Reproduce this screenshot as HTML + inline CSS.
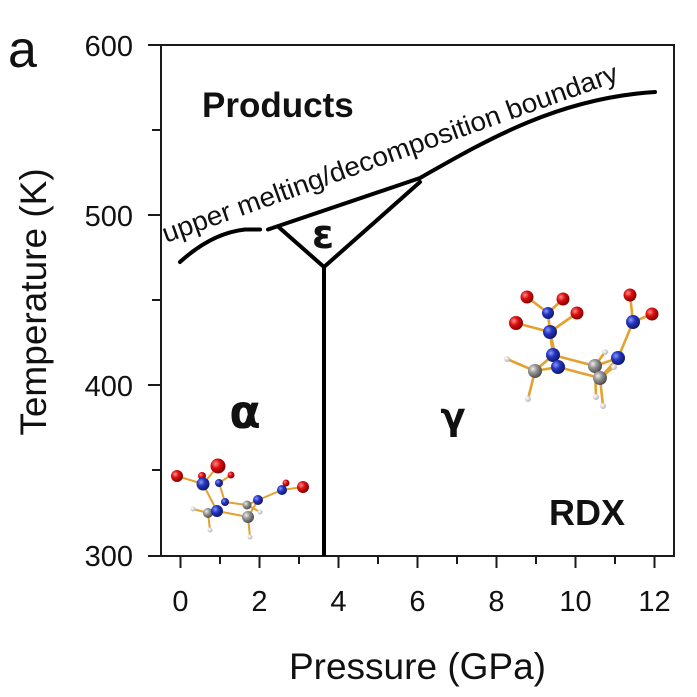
<!DOCTYPE html>
<html>
<head>
<meta charset="utf-8">
<style>
html,body{margin:0;padding:0;background:#fff;}
svg{display:block;}
text{font-family:"Liberation Sans", Arial, sans-serif;fill:#111;}
</style>
</head>
<body>
<svg width="697" height="697" viewBox="0 0 697 697" xmlns="http://www.w3.org/2000/svg">
<defs>
<radialGradient id="gR" cx="35%" cy="35%" r="65%"><stop offset="0" stop-color="#ff9090"/><stop offset="0.45" stop-color="#dd1010"/><stop offset="1" stop-color="#8a0000"/></radialGradient>
<radialGradient id="gB" cx="35%" cy="35%" r="65%"><stop offset="0" stop-color="#8a9aff"/><stop offset="0.45" stop-color="#2535c0"/><stop offset="1" stop-color="#101a70"/></radialGradient>
<radialGradient id="gG" cx="35%" cy="35%" r="65%"><stop offset="0" stop-color="#eeeeee"/><stop offset="0.45" stop-color="#959595"/><stop offset="1" stop-color="#505050"/></radialGradient>
<radialGradient id="gH" cx="35%" cy="35%" r="65%"><stop offset="0" stop-color="#ffffff"/><stop offset="1" stop-color="#b8b8b8"/></radialGradient>
</defs>

<!-- axes box -->
<rect x="161" y="45" width="513" height="511" fill="none" stroke="#1a1a1a" stroke-width="2"/>

<!-- y ticks -->
<g stroke="#1a1a1a" stroke-width="2">
<line x1="148" y1="45" x2="161" y2="45"/>
<line x1="152" y1="130" x2="161" y2="130"/>
<line x1="148" y1="215" x2="161" y2="215"/>
<line x1="152" y1="300" x2="161" y2="300"/>
<line x1="148" y1="385" x2="161" y2="385"/>
<line x1="152" y1="470" x2="161" y2="470"/>
<line x1="148" y1="556" x2="161" y2="556"/>
</g>
<!-- x ticks -->
<g stroke="#1a1a1a" stroke-width="2">
<line x1="180.5" y1="556" x2="180.5" y2="568"/>
<line x1="220" y1="556" x2="220" y2="564"/>
<line x1="259.5" y1="556" x2="259.5" y2="568"/>
<line x1="299" y1="556" x2="299" y2="564"/>
<line x1="338.5" y1="556" x2="338.5" y2="568"/>
<line x1="378" y1="556" x2="378" y2="564"/>
<line x1="417.5" y1="556" x2="417.5" y2="568"/>
<line x1="457" y1="556" x2="457" y2="564"/>
<line x1="496.5" y1="556" x2="496.5" y2="568"/>
<line x1="536" y1="556" x2="536" y2="564"/>
<line x1="575.5" y1="556" x2="575.5" y2="568"/>
<line x1="615" y1="556" x2="615" y2="564"/>
<line x1="654.5" y1="556" x2="654.5" y2="568"/>
</g>

<!-- tick labels -->
<g font-size="29" text-anchor="end">
<text x="133" y="56">600</text>
<text x="133" y="226">500</text>
<text x="133" y="396">400</text>
<text x="133" y="566">300</text>
</g>
<g font-size="29" text-anchor="middle">
<text x="180.5" y="611">0</text>
<text x="259.5" y="611">2</text>
<text x="338.5" y="611">4</text>
<text x="417.5" y="611">6</text>
<text x="496.5" y="611">8</text>
<text x="575.5" y="611">10</text>
<text x="654.5" y="611">12</text>
</g>

<!-- axis labels -->
<text x="417.5" y="679" font-size="37" text-anchor="middle">Pressure (GPa)</text>
<text transform="translate(46,302) rotate(-90)" font-size="37" text-anchor="middle">Temperature (K)</text>
<text x="8" y="67" font-size="52">a</text>

<!-- phase boundaries -->
<g fill="none" stroke="#000" stroke-width="4" stroke-linecap="round" stroke-linejoin="round">
<path d="M180,262 Q212,233 245,229.5 L260,229.5"/>
<path d="M268,229.5 L420,178 C490,138 560,98 655,92"/>
<path d="M278,226.5 L324,267 L420,182"/>
<path d="M324,267 L324,556" stroke-linecap="butt"/>
</g>

<!-- labels in plot -->
<text x="202" y="117" font-size="35" font-weight="bold">Products</text>
<text x="549" y="525" font-size="36" font-weight="bold">RDX</text>
<text x="323" y="248" font-size="40" font-weight="bold" text-anchor="middle" style="font-family:'DejaVu Sans',sans-serif">ε</text>
<text x="245" y="428" font-size="46" font-weight="bold" text-anchor="middle" style="font-family:'DejaVu Sans',sans-serif">α</text>
<text x="453" y="429" font-size="37" font-weight="bold" text-anchor="middle" style="font-family:'DejaVu Sans',sans-serif">γ</text>

<text transform="translate(166,243) rotate(-19.7)" font-size="27" textLength="482" lengthAdjust="spacingAndGlyphs">upper melting/decomposition boundary</text>

<!-- molecule 2 (gamma) -->
<g stroke="#e3a12f" stroke-width="2.6" stroke-linecap="round">
<line x1="527" y1="297" x2="548" y2="313"/>
<line x1="563" y1="299" x2="548" y2="313"/>
<line x1="548" y1="313" x2="550" y2="332"/>
<line x1="516" y1="323" x2="550" y2="332"/>
<line x1="577" y1="313" x2="550" y2="332"/>
<line x1="550" y1="332" x2="558" y2="367"/>
<line x1="550" y1="332" x2="553" y2="355"/>
<line x1="553" y1="355" x2="535" y2="371"/>
<line x1="558" y1="367" x2="535" y2="371"/>
<line x1="553" y1="355" x2="595" y2="366"/>
<line x1="558" y1="367" x2="600" y2="378"/>
<line x1="535" y1="371" x2="507" y2="359"/>
<line x1="535" y1="371" x2="528" y2="399"/>
<line x1="595" y1="366" x2="618" y2="358"/>
<line x1="600" y1="378" x2="618" y2="358"/>
<line x1="618" y1="358" x2="633" y2="322"/>
<line x1="633" y1="322" x2="630" y2="295"/>
<line x1="633" y1="322" x2="652" y2="314"/>
<line x1="595" y1="366" x2="605" y2="352"/>
<line x1="600" y1="378" x2="614" y2="367"/>
<line x1="595" y1="366" x2="596" y2="397"/>
<line x1="600" y1="378" x2="603" y2="406"/>
</g>
<g>
<circle cx="507" cy="359" r="3" fill="url(#gH)"/>
<circle cx="528" cy="399" r="3" fill="url(#gH)"/>
<circle cx="605" cy="352" r="3" fill="url(#gH)"/>
<circle cx="596" cy="397" r="3" fill="url(#gH)"/>
<circle cx="603" cy="406" r="3" fill="url(#gH)"/>
<circle cx="527" cy="297" r="6.5" fill="url(#gR)"/>
<circle cx="563" cy="299" r="6.5" fill="url(#gR)"/>
<circle cx="548" cy="313" r="6" fill="url(#gB)"/>
<circle cx="516" cy="323" r="7" fill="url(#gR)"/>
<circle cx="577" cy="313" r="6.5" fill="url(#gR)"/>
<circle cx="550" cy="332" r="7" fill="url(#gB)"/>
<circle cx="630" cy="295" r="6.5" fill="url(#gR)"/>
<circle cx="652" cy="314" r="6.5" fill="url(#gR)"/>
<circle cx="633" cy="322" r="7" fill="url(#gB)"/>
<circle cx="553" cy="355" r="7" fill="url(#gB)"/>
<circle cx="535" cy="371" r="7" fill="url(#gG)"/>
<circle cx="558" cy="367" r="7" fill="url(#gB)"/>
<circle cx="595" cy="366" r="7" fill="url(#gG)"/>
<circle cx="618" cy="358" r="7" fill="url(#gB)"/>
<circle cx="600" cy="378" r="7" fill="url(#gG)"/>
<circle cx="614" cy="367" r="3" fill="url(#gH)"/>
</g>

<!-- molecule 1 (alpha) -->
<g stroke="#e3a12f" stroke-width="2" stroke-linecap="round">
<line x1="177" y1="476" x2="203" y2="484"/>
<line x1="218" y1="466" x2="203" y2="484"/>
<line x1="203" y1="484" x2="217" y2="511"/>
<line x1="219" y1="483" x2="231" y2="475"/>
<line x1="219" y1="483" x2="225" y2="502"/>
<line x1="225" y1="502" x2="247" y2="505"/>
<line x1="217" y1="511" x2="248" y2="517"/>
<line x1="208" y1="513" x2="193" y2="509"/>
<line x1="208" y1="513" x2="210" y2="530"/>
<line x1="247" y1="505" x2="258" y2="500"/>
<line x1="248" y1="517" x2="258" y2="500"/>
<line x1="258" y1="500" x2="282" y2="490"/>
<line x1="282" y1="490" x2="286" y2="483"/>
<line x1="282" y1="490" x2="303" y2="487"/>
<line x1="248" y1="517" x2="250" y2="537"/>
<line x1="247" y1="505" x2="260" y2="512"/>
</g>
<g>
<circle cx="193" cy="509" r="2.5" fill="url(#gH)"/>
<circle cx="210" cy="530" r="2.5" fill="url(#gH)"/>
<circle cx="250" cy="537" r="2.5" fill="url(#gH)"/>
<circle cx="177" cy="476" r="6" fill="url(#gR)"/>
<circle cx="202" cy="476" r="4" fill="url(#gR)"/>
<circle cx="218" cy="466" r="7.5" fill="url(#gR)"/>
<circle cx="231" cy="475" r="3.5" fill="url(#gR)"/>
<circle cx="203" cy="484" r="6.5" fill="url(#gB)"/>
<circle cx="219" cy="483" r="4" fill="url(#gB)"/>
<circle cx="225" cy="502" r="4" fill="url(#gB)"/>
<circle cx="208" cy="513" r="5" fill="url(#gG)"/>
<circle cx="217" cy="511" r="6" fill="url(#gB)"/>
<circle cx="247" cy="505" r="4.5" fill="url(#gG)"/>
<circle cx="286" cy="483" r="3.5" fill="url(#gR)"/>
<circle cx="303" cy="487" r="6" fill="url(#gR)"/>
<circle cx="282" cy="490" r="5" fill="url(#gB)"/>
<circle cx="258" cy="500" r="5" fill="url(#gB)"/>
<circle cx="248" cy="517" r="6" fill="url(#gG)"/>
<circle cx="260" cy="512" r="2.5" fill="url(#gH)"/>
</g>
</svg>
</body>
</html>
